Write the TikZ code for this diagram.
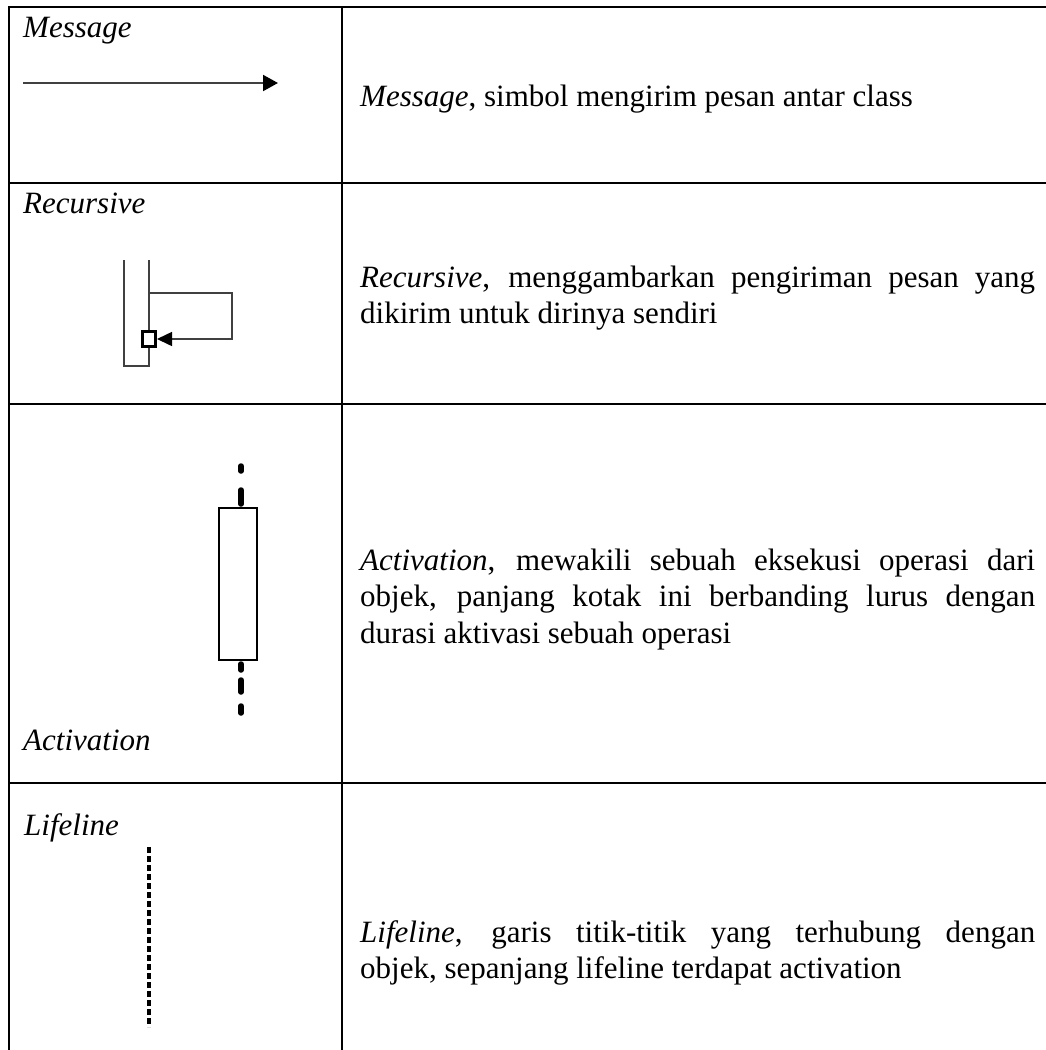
\documentclass[tikz,border=0pt]{standalone}
\usepackage{fontspec}
\setmainfont{Liberation Serif}
\usetikzlibrary{arrows.meta}
\begin{document}
\begin{tikzpicture}[x=1pt,y=-1pt,
  grid/.style={line width=1.6pt, draw=black},
  sym/.style={line width=1.5pt, draw=black!75},
  dashseg/.style={line width=5.5pt, line cap=round, draw=black},
  lab/.style={anchor=base west, inner sep=0pt, font=\fontsize{31}{36.5}\selectfont\itshape},
  txt/.style={anchor=base west, inner sep=0pt, font=\fontsize{31}{36.5}\selectfont}]
\useasboundingbox (0,0) rectangle (1046,1050);
\fill[white] (0,0) rectangle (1046,1050);
% table grid
\coordinate (tl) at (9,7);
\coordinate (tr) at (1046,7);
\coordinate (bl) at (9,1050);
\coordinate (mt) at (342,7);
\coordinate (mb) at (342,1050);
\draw[grid] (tr) -- (tl) -- (bl);
\draw[grid] (mt) -- (mb);
\foreach \y [count=\i] in {183,404,783} {
  \coordinate (r\i l) at (9,\y);
  \coordinate (r\i r) at (1046,\y);
  \draw[grid] (r\i l) -- (r\i r);
}
% left labels
\node[lab] (mlab) at (23,37) {Message};
\node[lab] (rlab) at (23,213) {Recursive};
\node[lab] (alab) at (23,750) {Activation};
\node[lab] (llab) at (24,835) {Lifeline};
% message arrow
\coordinate (ms) at (23,83);
\coordinate (me) at (278,83);
\draw[line width=2pt, draw=black!75, -{Triangle[length=15pt,width=16pt,color=black]}] (ms) -- (me);
% recursive symbol
\coordinate (ra) at (124,260);
\coordinate (rb) at (124,366);
\coordinate (rc) at (149,366);
\coordinate (rd) at (149,260);
\draw[sym] (ra) -- (rb) -- (rc) -- (rd);
\coordinate (l1) at (149,293);
\coordinate (l2) at (232,293);
\coordinate (l3) at (232,339);
\node[draw=black, line width=3pt, fill=white, minimum width=13pt, minimum height=15pt, inner sep=0pt] (sq) at (149,339) {};
\draw[sym, -{Triangle[length=15pt,width=14pt,color=black]}] (l1) -- (l2) -- (l3) -- (sq.east);
% activation symbol
\node[draw=black, line width=2pt, fill=white, minimum width=38pt, minimum height=152pt, inner sep=0pt] (act) at (238,584) {};
\foreach \a/\b in {466/471,490/504,664/670,680/692,706/713}
  \draw[dashseg] (241,\a) -- (241,\b);
% lifeline symbol
\coordinate (lt) at (149,847);
\coordinate (lb) at (149,1027);
\draw[line width=4pt, draw=black, dash pattern=on 5.5pt off 3.5pt] (lt) -- (lb);
% descriptions
\node[txt] (mtxt) at (360,106) {\textit{Message}, simbol mengirim pesan antar class};
\node[txt] (rtxt1) at (360,287) {\makebox[675pt][s]{\textit{Recursive}, menggambarkan pengiriman pesan yang}};
\node[txt] (rtxt2) at (360,323.5) {dikirim untuk dirinya sendiri};
\node[txt] (atxt1) at (360,570) {\makebox[675pt][s]{\textit{Activation}, mewakili sebuah eksekusi operasi dari}};
\node[txt] (atxt2) at (360,606.5) {\makebox[675pt][s]{objek, panjang kotak ini berbanding lurus dengan}};
\node[txt] (atxt3) at (360,643) {durasi aktivasi sebuah operasi};
\node[txt] (ltxt1) at (360,942) {\makebox[675pt][s]{\textit{Lifeline}, garis titik-titik yang terhubung dengan}};
\node[txt] (ltxt2) at (360,978.5) {objek, sepanjang lifeline terdapat activation};
\end{tikzpicture}
\end{document}
